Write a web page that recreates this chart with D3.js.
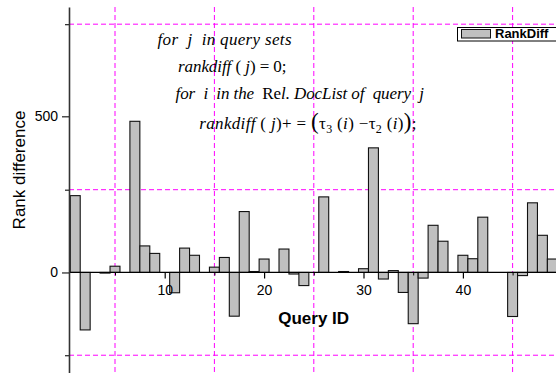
<!DOCTYPE html>
<html><head><meta charset="utf-8">
<script src="https://cdn.jsdelivr.net/npm/d3@7"></script>
<style>html,body{margin:0;padding:0;background:#fff;overflow:hidden}svg{display:block}</style>
</head><body>
<svg id="chart" width="556" height="373"></svg>
<script>
// ---- data ----
const queryIds = d3.range(1, 50);
const rankDiff = [246,-184,0,-2,20,0,484,85,61,0,-65,78,55,0,17,48,-140,195,3,43,0,75,-5,-42,0,242,0,3,0,12,399,-21,6,-64,-164,-18,151,100,0,55,44,177,0,0,-141,-10,223,119,43];
const yTickValues = [0, 500];
const yGridValues = [-265, 265, 795];
const xTickValues = [10, 20, 30, 40];
const xGridValues = [5, 15, 25, 35, 45];
const seriesName = "RankDiff";
const xTitle = "Query ID";
const yTitle = "Rank difference";

const W = 556, H = 373;
const svg = d3.select("#chart");
const x = d3.scaleLinear().domain([0, 50]).range([65.3, 562.3]);
const y = d3.scaleLinear().domain([-320, 850]).range([372.4, 7]);
const axisX = 69;
const sans = "'Liberation Sans', Arial, sans-serif";
const serif = "'Liberation Serif', 'Times New Roman', serif";

// grid
const grid = svg.append("g").attr("stroke", "#ff00ff").attr("stroke-width", 1).attr("stroke-dasharray", "5,3");
grid.selectAll("line.h").data(yGridValues).join("line").attr("class", "h")
  .attr("x1", axisX).attr("x2", W).attr("y1", d => y(d)).attr("y2", d => y(d));
grid.selectAll("line.v").data(xGridValues).join("line").attr("class", "v")
  .attr("x1", d => x(d)).attr("x2", d => x(d)).attr("y1", y.range()[1]).attr("y2", H);

// bars
const data = queryIds.map((id, i) => ({id, v: rankDiff[i]})).filter(d => d.v !== 0);
const bw = x(1) - x(0);
svg.append("g").selectAll("rect").data(data).join("rect")
  .attr("x", d => x(d.id - 0.5)).attr("width", bw)
  .attr("y", d => y(Math.max(0, d.v)))
  .attr("height", d => Math.max(0.5, Math.abs(y(d.v) - y(0))))
  .attr("fill", "#c0c0c0").attr("stroke", "#111").attr("stroke-width", 1.1);

// x axis (zero line)
svg.append("line").attr("x1", axisX).attr("x2", W).attr("y1", y(0)).attr("y2", y(0))
  .attr("stroke", "#000").attr("stroke-width", 1.3);
const xMinor = svg.append("g").attr("transform", `translate(0,${y(0)})`)
  .call(d3.axisBottom(x).tickValues(xGridValues).tickSize(3).tickFormat(""));
xMinor.select(".domain").remove();
const xAx = svg.append("g").attr("transform", `translate(0,${y(0)})`)
  .call(d3.axisBottom(x).tickValues(xTickValues).tickSize(6).tickPadding(7).tickFormat(d3.format("d")));
xAx.select(".domain").remove();
xAx.selectAll("line").attr("stroke", "#000").attr("stroke-width", 1.2);
xAx.selectAll("text").attr("font-family", sans).attr("font-size", 14).attr("fill", "#000");

// y axis
const yMinor = svg.append("g").attr("transform", `translate(${axisX},0)`)
  .call(d3.axisLeft(y).tickValues(yGridValues).tickSize(4).tickFormat(""));
yMinor.select(".domain").remove();
yMinor.selectAll("line").attr("stroke", "#222").attr("stroke-width", 1.2);
const yAx = svg.append("g").attr("transform", `translate(${axisX},0)`)
  .call(d3.axisLeft(y).tickValues(yTickValues).tickSize(7).tickSizeOuter(0).tickPadding(4).tickFormat(d3.format("d")));
yAx.select(".domain").attr("stroke", "#333").attr("stroke-width", 1.6);
yAx.selectAll(".tick line").attr("stroke", "#222").attr("stroke-width", 1.2);
yAx.selectAll("text").attr("font-family", sans).attr("font-size", 14).attr("fill", "#000");

// axis titles
svg.append("text").attr("transform", "translate(25,170) rotate(-90)").attr("text-anchor", "middle")
  .attr("font-family", sans).attr("font-size", 17).attr("fill", "#000").text(yTitle);
svg.append("text").attr("x", 313.7).attr("y", 323.5).attr("text-anchor", "middle")
  .attr("font-family", sans).attr("font-size", 17).attr("font-weight", "bold").attr("fill", "#000").text(xTitle);

// legend
const lg = svg.append("g");
lg.append("rect").attr("x", 457.5).attr("y", 27.5).attr("width", 110).attr("height", 13.5)
  .attr("fill", "#fff").attr("stroke", "#000").attr("stroke-width", 1);
lg.append("rect").attr("x", 461.5).attr("y", 29.5).attr("width", 29).attr("height", 8.5)
  .attr("fill", "#c0c0c0").attr("stroke", "#111").attr("stroke-width", 1);
lg.append("text").attr("x", 495).attr("y", 38.3).attr("font-family", sans).attr("font-size", 13)
  .attr("font-weight", "bold").attr("fill", "#000").text(seriesName);

// formula annotation
const I = "italic", N = "normal";
const formulaLines = [
  {x0: 157.5, x1: 291.5, yb: 45, segs: [["for  j  in query sets", I]]},
  {x0: 178, x1: 286.5, yb: 72, segs: [["rankdiff", I], [" ( ", N], ["j", I], [") = 0;", N]]},
  {x0: 175.5, x1: 424, yb: 99, segs: [["for  i  in the  ", I], ["Re", N], ["l. DocList of  query  j", I]]},
  {x0: 199.3, x1: 416.5, yb: 128.5, segs: [["rankdiff", I], [" ( ", N], ["j", I], [")+ = ", N], ["(", N, 23],
     ["τ", N], ["3", N, 12, 4], [" (", N, 17, -4], ["i", I], [") −τ", N], ["2", N, 12, 4], [" (", N, 17, -4], ["i", I], [")", N], [")", N, 23], [";", N]]}
];
formulaLines.forEach(L => {
  const t = svg.append("text").attr("x", L.x0).attr("y", L.yb).attr("font-family", serif)
    .attr("font-size", 17).attr("fill", "#000").style("white-space", "pre");
  L.segs.forEach(s => {
    const ts = t.append("tspan").attr("font-style", s[1]).text(s[0]);
    if (s[2]) ts.attr("font-size", s[2]);
    if (s[3]) ts.attr("dy", s[3]);
  });
  t.attr("textLength", L.x1 - L.x0).attr("lengthAdjust", "spacing");
});
</script>
</body></html>
